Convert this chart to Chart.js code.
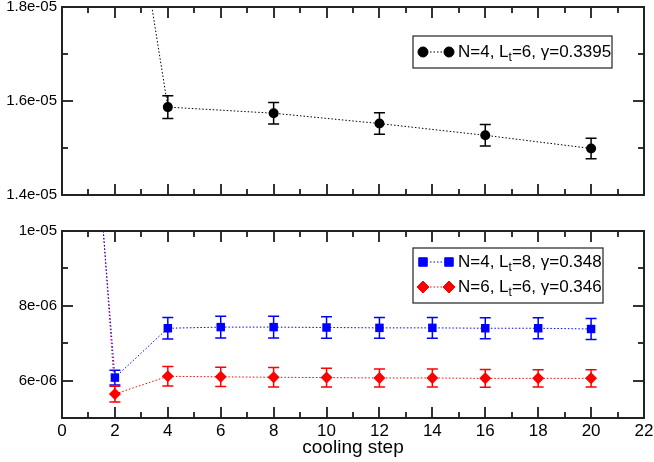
<!DOCTYPE html>
<html>
<head>
<meta charset="utf-8">
<script src="https://cdn.jsdelivr.net/npm/chart.js@4.4.1/dist/chart.umd.min.js"></script>
<style>
html, body { margin: 0; padding: 0; background: #fff; }
#wrap { position: relative; width: 654px; height: 462px; overflow: hidden; }
#topChart { position: absolute; left: 0; top: 0; }
#bottomChart { position: absolute; left: 0; top: 220px; }
</style>
</head>
<body>
<div id="wrap">
  <canvas id="topChart" width="654" height="200" style="width:654px;height:200px"></canvas>
  <canvas id="bottomChart" width="654" height="242" style="width:654px;height:242px"></canvas>
</div>
<script>
// cooling steps and values
var topSteps = [0, 4, 8, 12, 16, 20];
var topValues = [3.0e-5, 1.587e-5, 1.574e-5, 1.552e-5, 1.527e-5, 1.499e-5];
var topErrors = [3.0e-7, 2.4e-7, 2.3e-7, 2.3e-7, 2.3e-7, 2.2e-7];

var steps = [0, 2, 4, 6, 8, 10, 12, 14, 16, 18, 20];
var blueValues = [23.9e-6, 6.08e-6, 7.40e-6, 7.43e-6, 7.43e-6, 7.42e-6, 7.41e-6, 7.41e-6, 7.40e-6, 7.40e-6, 7.38e-6];
var blueErrors = [3.0e-7, 2.0e-7, 2.9e-7, 2.9e-7, 2.9e-7, 2.9e-7, 2.8e-7, 2.8e-7, 2.8e-7, 2.8e-7, 2.8e-7];
var redValues = [25.5e-6, 5.64e-6, 6.115e-6, 6.10e-6, 6.09e-6, 6.08e-6, 6.07e-6, 6.07e-6, 6.06e-6, 6.06e-6, 6.06e-6];
var redErrors = [3.0e-7, 2.1e-7, 2.6e-7, 2.6e-7, 2.6e-7, 2.5e-7, 2.4e-7, 2.4e-7, 2.4e-7, 2.3e-7, 2.3e-7];

var xTicks = [0, 2, 4, 6, 8, 10, 12, 14, 16, 18, 20, 22];
var xMinor = [1, 3, 5, 7, 9, 11, 13, 15, 17, 19, 21];
var topYTicks = [1.4e-5, 1.6e-5, 1.8e-5];
var topYMinor = [1.5e-5, 1.7e-5];
var bottomYTicks = [6e-6, 8e-6, 1e-5];
var bottomYMinor = [5e-6, 7e-6, 9e-6];

var topLabel = ['N=4, L', 't', '=6, \u03b3=0.3395'];
var blueLabel = ['N=4, L', 't', '=8, \u03b3=0.348'];
var redLabel = ['N=6, L', 't', '=6, \u03b3=0.346'];
var xTitle = 'cooling step';

var FONT = '"Liberation Sans", Arial, Helvetica, sans-serif';

function sci(v, digits) {
  var parts = v.toExponential(digits).split('e');
  var e = parseInt(parts[1], 10);
  var a = Math.abs(e);
  return parts[0] + 'e' + (e < 0 ? '-' : '+') + (a < 10 ? '0' : '') + a;
}

function pairs(xs, ys) {
  return xs.map(function (x, i) { return { x: x, y: ys[i] }; });
}

// error bars, drawn under the markers
var errorBars = {
  id: 'errorBars',
  beforeDatasetsDraw: function (chart) {
    var ctx = chart.ctx, area = chart.chartArea;
    ctx.save();
    ctx.beginPath();
    ctx.rect(area.left, area.top, area.right - area.left, area.bottom - area.top);
    ctx.clip();
    chart.data.datasets.forEach(function (ds, di) {
      var meta = chart.getDatasetMeta(di);
      var ys = chart.scales.y;
      ctx.strokeStyle = ds.borderColor;
      ctx.lineWidth = 1.5;
      meta.data.forEach(function (pt, i) {
        var v = ds.data[i].y, e = ds.errors[i];
        var y1 = ys.getPixelForValue(v + e), y2 = ys.getPixelForValue(v - e);
        ctx.beginPath();
        ctx.moveTo(pt.x, y1); ctx.lineTo(pt.x, y2);
        ctx.moveTo(pt.x - 5.5, y1); ctx.lineTo(pt.x + 5.5, y1);
        ctx.moveTo(pt.x - 5.5, y2); ctx.lineTo(pt.x + 5.5, y2);
        ctx.stroke();
      });
    });
    ctx.restore();
  }
};

// box frame with inward ticks on all four sides
var frame = {
  id: 'frame',
  afterDraw: function (chart, args, opts) {
    var ctx = chart.ctx, a = chart.chartArea;
    var xs = chart.scales.x, ys = chart.scales.y;
    ctx.save();
    ctx.strokeStyle = '#333';
    ctx.lineWidth = 2;
    ctx.beginPath();
    function xt(v, len) {
      var p = Math.round(xs.getPixelForValue(v));
      ctx.moveTo(p, a.bottom); ctx.lineTo(p, a.bottom - len);
      ctx.moveTo(p, a.top); ctx.lineTo(p, a.top + len);
    }
    function yt(v, len) {
      var p = Math.round(ys.getPixelForValue(v));
      ctx.moveTo(a.left, p); ctx.lineTo(a.left + len, p);
      ctx.moveTo(a.right, p); ctx.lineTo(a.right - len, p);
    }
    xTicks.forEach(function (v) { xt(v, 11); });
    xMinor.forEach(function (v) { xt(v, 6); });
    opts.yMajor.forEach(function (v) { yt(v, 11); });
    opts.yMinor.forEach(function (v) { yt(v, 6); });
    ctx.stroke();
    ctx.strokeStyle = '#222';
    ctx.strokeRect(a.left, a.top, a.right - a.left, a.bottom - a.top);
    ctx.restore();
  }
};

function drawMarker(ctx, style, x, y) {
  Chart.helpers.drawPoint(ctx, { pointStyle: style.pointStyle, radius: style.pointRadius, rotation: 0, borderWidth: 1 }, x, y);
}

// in-plot legend with subscripted L_t
var boxLegend = {
  id: 'boxLegend',
  afterDraw: function (chart, args, opts) {
    var ctx = chart.ctx;
    ctx.save();
    ctx.fillStyle = '#fff';
    ctx.fillRect(opts.x, opts.y, opts.w, opts.h);
    ctx.strokeStyle = '#222';
    ctx.lineWidth = 1.2;
    ctx.strokeRect(opts.x, opts.y, opts.w, opts.h);
    chart.data.datasets.forEach(function (ds, i) {
      var cy = opts.y + opts.firstRow + i * opts.rowGap;
      var x1 = opts.x + 10, x2 = opts.x + 36;
      ctx.strokeStyle = ds.borderColor;
      ctx.lineWidth = 1;
      ctx.setLineDash([1.5, 2]);
      ctx.beginPath(); ctx.moveTo(x1, cy); ctx.lineTo(x2, cy); ctx.stroke();
      ctx.setLineDash([]);
      ctx.fillStyle = ds.backgroundColor;
      ctx.strokeStyle = ds.borderColor;
      drawMarker(ctx, ds, x1, cy);
      drawMarker(ctx, ds, x2, cy);
      var parts = ds.label;
      var tx = opts.x + 45;
      ctx.fillStyle = '#000';
      ctx.textBaseline = 'middle';
      ctx.font = '17px ' + FONT;
      ctx.fillText(parts[0], tx, cy);
      tx += ctx.measureText(parts[0]).width;
      ctx.font = '12px ' + FONT;
      ctx.fillText(parts[1], tx, cy + 6);
      tx += ctx.measureText(parts[1]).width;
      ctx.font = '17px ' + FONT;
      ctx.fillText(parts[2], tx, cy);
    });
    ctx.restore();
  }
};

function xScale(show) {
  return {
    type: 'linear', min: 0, max: 22, display: show,
    afterBuildTicks: function (s) { s.ticks = xTicks.map(function (v) { return { value: v }; }); },
    afterFit: function (s) { s.height = show ? 44 : 0; s.paddingLeft = 0; s.paddingRight = 0; },
    grid: { display: false, drawTicks: false },
    border: { display: false },
    ticks: { padding: 3, color: '#000', maxRotation: 0, font: { size: 17, family: FONT } },
    title: { display: show, text: xTitle, color: '#000', font: { size: 19, family: FONT }, padding: { top: 0, bottom: 3 } }
  };
}

function yScale(min, max, ticks, digits) {
  return {
    type: 'linear', min: min, max: max,
    afterBuildTicks: function (s) { s.ticks = ticks.map(function (v) { return { value: v }; }); },
    afterFit: function (s) { s.width = 62; s.paddingTop = 0; s.paddingBottom = 0; },
    grid: { display: false, drawTicks: false },
    border: { display: false },
    ticks: { padding: 5, color: '#000', font: { size: 15, family: FONT }, callback: function (v) { return sci(v, digits); } }
  };
}

var common = {
  responsive: false,
  animation: false,
  events: [],
  plugins: { legend: { display: false }, tooltip: { enabled: false } }
};

var topChart = new Chart(document.getElementById('topChart'), {
  type: 'line',
  data: {
    datasets: [{
      label: topLabel,
      data: pairs(topSteps, topValues),
      errors: topErrors,
      borderColor: '#000',
      backgroundColor: '#000',
      borderWidth: 1,
      borderDash: [1.5, 2],
      pointStyle: 'circle',
      pointRadius: 5,
      pointBorderWidth: 0,
      tension: 0
    }]
  },
  options: Object.assign({}, common, {
    layout: { padding: { left: 0, right: 10, top: 7, bottom: 4 } },
    scales: { x: xScale(false), y: yScale(1.4e-5, 1.8e-5, topYTicks, 1) },
    plugins: Object.assign({}, common.plugins, {
      frame: { yMajor: topYTicks, yMinor: topYMinor },
      boxLegend: { x: 413, y: 36, w: 199, h: 32, firstRow: 16, rowGap: 25 }
    })
  }),
  plugins: [errorBars, frame, boxLegend]
});

var bottomChart = new Chart(document.getElementById('bottomChart'), {
  type: 'line',
  data: {
    datasets: [{
      label: blueLabel,
      data: pairs(steps, blueValues),
      errors: blueErrors,
      borderColor: '#0000ff',
      backgroundColor: '#0000ff',
      borderWidth: 1,
      borderDash: [1.5, 2],
      pointStyle: 'rect',
      pointRadius: 6,
      pointBorderWidth: 0,
      tension: 0
    }, {
      label: redLabel,
      data: pairs(steps, redValues),
      errors: redErrors,
      borderColor: '#ff0000',
      backgroundColor: '#ff0000',
      borderWidth: 1,
      borderDash: [1.5, 2],
      pointStyle: 'rectRot',
      pointRadius: 6,
      pointBorderWidth: 0,
      tension: 0
    }]
  },
  options: Object.assign({}, common, {
    layout: { padding: { left: 0, right: 10, top: 11, bottom: 0 } },
    scales: { x: xScale(true), y: yScale(5e-6, 1e-5, bottomYTicks, 0) },
    plugins: Object.assign({}, common.plugins, {
      frame: { yMajor: bottomYTicks, yMinor: bottomYMinor },
      boxLegend: { x: 413, y: 28, w: 190, h: 55, firstRow: 14, rowGap: 25 }
    })
  }),
  plugins: [errorBars, frame, boxLegend]
});
</script>
</body>
</html>
